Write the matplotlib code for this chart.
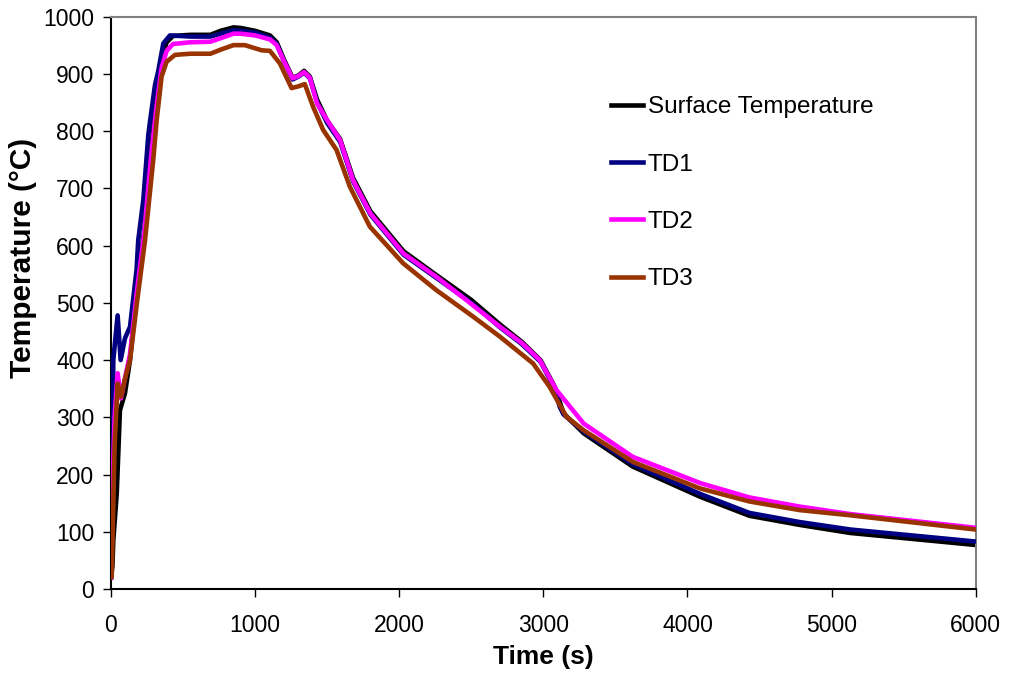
import matplotlib
matplotlib.use("Agg")
import matplotlib.pyplot as plt

# Surface temperature (black)
t_surf = [0, 10, 16, 40, 62, 97, 132, 180, 230, 280, 317, 351, 386, 430, 550, 690, 760,
          850, 900, 1000, 1103, 1150, 1200, 1260, 1300, 1340, 1380, 1430, 1500, 1590,
          1680, 1800, 2030, 2260, 2500, 2700, 2850, 2980, 3080, 3140, 3280, 3620, 4090,
          4430, 4780, 5130, 6000]
T_surf = [20, 40, 85, 167, 312, 342, 400, 525, 625, 770, 860, 925, 955, 966, 968, 968, 975,
          981, 980, 975, 967, 955, 925, 893, 897, 905, 895, 855, 818, 786,
          718, 660, 590, 548, 505, 462, 432, 400, 353, 307, 272, 214, 161,
          128, 112, 98, 77]

# TD1 (navy)
t_td1 = [0, 8, 16, 46, 67, 97, 132, 178, 189, 224, 259, 270, 305, 328, 363, 409, 550, 690,
         760, 850, 900, 1000, 1103, 1150, 1200, 1260, 1300, 1340, 1380, 1430, 1500, 1590,
         1680, 1800, 2030, 2260, 2500, 2700, 2850, 2980, 3080, 3114, 3140, 3280, 3620,
         4090, 4430, 4780, 5130, 6000]
T_td1 = [20, 150, 400, 478, 400, 438, 458, 559, 609, 679, 793, 815, 880, 905, 953, 967, 965, 965,
         970, 976, 975, 972, 963, 952, 922, 890, 895, 902, 892, 850, 814, 781,
         712, 654, 584, 543, 500, 457, 428, 397, 350, 318, 305, 275, 218,
         166, 133, 117, 104, 83]

# TD2 (magenta)
t_td2 = [0, 8, 25, 46, 69, 100, 132, 180, 230, 280, 317, 351, 386, 430, 550, 690, 760, 850,
         900, 1000, 1103, 1150, 1200, 1260, 1300, 1340, 1380, 1430, 1500, 1590, 1680, 1800,
         2030, 2260, 2500, 2700, 2850, 2975, 3090, 3280, 3620, 4090, 4430, 4780, 5130, 6000]
T_td2 = [20, 150, 300, 377, 333, 372, 410, 520, 620, 760, 845, 910, 940, 952, 955, 956, 962, 970,
         970, 967, 960, 950, 922, 892, 896, 903, 893, 848, 819, 784, 714, 656,
         586, 545, 498, 458, 430, 400, 348, 289, 231, 185, 160, 144, 131, 107]

# TD3 (brown)
t_td3 = [0, 5, 25, 46, 69, 100, 132, 180, 236, 293, 317, 351, 386, 444, 550, 690, 760, 850,
         929, 1045, 1103, 1172, 1253, 1300, 1345, 1403, 1472, 1565, 1657, 1796, 2027, 2258,
         2512, 2698, 2929, 3044, 3160, 3276, 3622, 4085, 4430, 4778, 5125, 6000]
T_td3 = [20, 21, 250, 359, 336, 370, 400, 500, 609, 749, 819, 895, 921, 933, 935, 935, 942, 950,
         950, 941, 940, 918, 875, 878, 882, 842, 802, 767, 703, 633, 569, 522,
         476, 441, 394, 353, 301, 278, 222, 176, 153, 138, 129, 104]

plt.rcParams['font.family'] = ['Liberation Sans', 'DejaVu Sans']

fig = plt.figure(figsize=(10.09, 6.74), dpi=100)
ax = fig.add_axes([0.110, 0.126, 0.857, 0.8495])

lw = 3.3
ax.plot(t_surf, T_surf, color='#000000', lw=lw, label='Surface Temperature', zorder=2)
ax.plot(t_td1, T_td1, color='#000080', lw=lw, label='TD1', zorder=3)
ax.plot(t_td2, T_td2, color='#FF00FF', lw=lw, label='TD2', zorder=4)
ax.plot(t_td3, T_td3, color='#993300', lw=lw, label='TD3', zorder=5)

ax.set_xlim(0, 6000)
ax.set_ylim(0, 1000)
ax.set_xticks(range(0, 6001, 1000))
ax.set_yticks(range(0, 1001, 100))
ax.tick_params(direction='out', length=6, width=1, labelsize=16.5)
ax.tick_params(axis='x', pad=12)
ax.tick_params(axis='y', pad=6)

ax.spines['top'].set_color('#808080')
ax.spines['right'].set_color('#808080')
for s in ax.spines.values():
    s.set_linewidth(1.5)

ax.set_xlabel('Time (s)', fontsize=19, fontweight='bold')
ax.xaxis.set_label_coords(0.5, -0.097)
ax.set_ylabel('Temperature (\u00b0C)', fontsize=21.5, fontweight='bold')
ax.yaxis.set_label_coords(-0.086, 0.578)

ax.legend(loc='upper left', bbox_to_anchor=(0.606, 0.857), bbox_transform=fig.transFigure,
          frameon=False, fontsize=17.5, handlelength=1.3, handletextpad=0.2,
          labelspacing=1.45, borderpad=0, borderaxespad=0)

fig.savefig('out.png', dpi=100)
